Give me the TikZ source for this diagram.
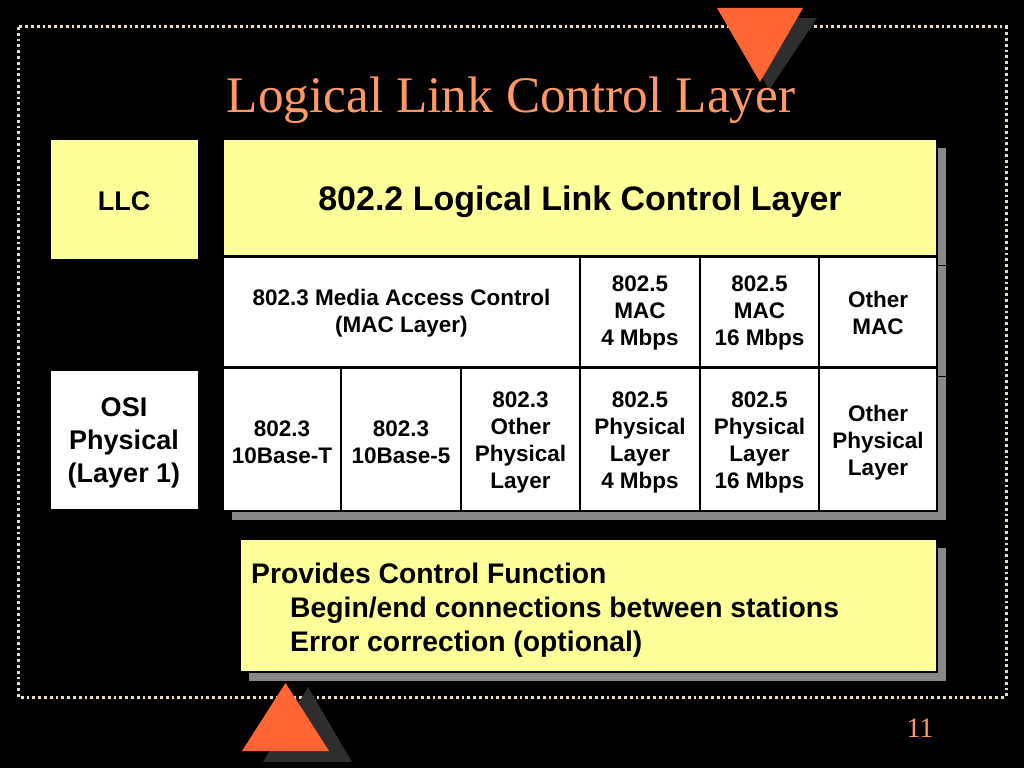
\documentclass[tikz,border=0pt]{standalone}
\usepackage{fontspec}
\setmainfont{Liberation Sans}
\newfontfamily\slidetitlefont{Liberation Serif}
\usetikzlibrary{shadows}
\definecolor{boxyellow}{HTML}{FFFF99}
\definecolor{shadowgray}{HTML}{888888}
\definecolor{triorange}{HTML}{FF6633}
\definecolor{trishadow}{HTML}{2E2E2E}
\definecolor{titlesalmon}{HTML}{FF9966}
\definecolor{dotcream}{HTML}{E8DCC8}
\newcommand\cellfnt{\fontsize{22.5}{27}\selectfont\bfseries}
\newcommand\sidefnt{\fontsize{27}{33}\selectfont\bfseries}
\begin{document}
\begin{tikzpicture}[x=1pt,y=-1pt,
  boxshadow/.style={general shadow={shadow xshift=9pt, shadow yshift=-9pt, fill=shadowgray, draw=none}},
  cell/.style={draw=black, line width=1.2pt, fill=white, inner sep=0pt, boxshadow},
  celltext/.style={inner sep=0pt, align=center, font=\cellfnt},
  sidebox/.style={draw=black, line width=1pt, inner sep=0pt},
  sidetext/.style={inner sep=0pt, align=center, font=\sidefnt},
  tri/.style={fill=triorange},
  trish/.style={fill=trishadow}]
\useasboundingbox (0,0) rectangle (1024,768);
\fill[black] (0,0) rectangle (1024,768);
% dotted frame
\draw[dotcream, line width=3pt, dash pattern=on 2.8pt off 3pt] (18,27) rectangle (1006,697);
% top triangle
\fill[trish] (731,18) -- (817,18) -- (769,90) -- cycle;
\fill[tri] (717,8) -- (803,8) -- (760,82) -- cycle;
% title
\node[anchor=base, text=titlesalmon, font=\slidetitlefont\fontsize{51.3}{56}\selectfont, inner sep=0pt] (title) at (511,112) {Logical Link Control Layer};
% side boxes
\node[sidebox, fill=boxyellow, minimum width=148pt, minimum height=120pt] (llc) at (124,199) {};
\node[sidetext] (llct) at ([yshift=-2pt]llc.center) {LLC};
\node[sidebox, fill=white, minimum width=148pt, minimum height=139pt] (osi) at (124,439.5) {};
\node[sidetext] (osit) at ([yshift=-3pt]osi.center) {OSI\\Physical\\(Layer 1)};
% header
\node[cell, fill=boxyellow, minimum width=714pt, minimum height=117pt] (hdr) at (580,197.5) {};
\node[inner sep=0pt, font=\fontsize{34}{38}\selectfont\bfseries] (hdrt) at ([yshift=-4pt]hdr.center) {802.2 Logical Link Control Layer};
% MAC row
\node[cell, minimum width=357pt, minimum height=110pt] (mac3) at (401.5,312) {};
\node[celltext] (mac3t) at ([yshift=-1pt]mac3.center) {802.3 Media Access Control\\(MAC Layer)};
\node[cell, minimum width=120pt, minimum height=110pt] (mac5a) at (640,312) {};
\node[celltext] (mac5at) at ([yshift=-1pt]mac5a.center) {802.5\\MAC\\4 Mbps};
\node[cell, minimum width=119pt, minimum height=110pt] (mac5b) at (759.5,312) {};
\node[celltext] (mac5bt) at ([yshift=-1pt]mac5b.center) {802.5\\MAC\\16 Mbps};
\node[cell, minimum width=118pt, minimum height=110pt] (macot) at (878,312) {};
\node[celltext] (macott) at ([yshift=-1pt]macot.center) {Other\\MAC};
% physical row
\node[cell, minimum width=118pt, minimum height=143pt] (phyt) at (282,439.5) {};
\node[celltext] (phytt) at ([yshift=-3pt]phyt.center) {802.3\\10Base-T};
\node[cell, minimum width=120pt, minimum height=143pt] (phy5) at (401,439.5) {};
\node[celltext] (phy5t) at ([yshift=-3pt]phy5.center) {802.3\\10Base-5};
\node[cell, minimum width=119pt, minimum height=143pt] (phyo3) at (520.5,439.5) {};
\node[celltext] (phyo3t) at ([yshift=-3pt]phyo3.center) {802.3\\Other\\Physical\\Layer};
\node[cell, minimum width=120pt, minimum height=143pt] (phy5a) at (640,439.5) {};
\node[celltext] (phy5at) at ([yshift=-3pt]phy5a.center) {802.5\\Physical\\Layer\\4 Mbps};
\node[cell, minimum width=119pt, minimum height=143pt] (phy5b) at (759.5,439.5) {};
\node[celltext] (phy5bt) at ([yshift=-3pt]phy5b.center) {802.5\\Physical\\Layer\\16 Mbps};
\node[cell, minimum width=118pt, minimum height=143pt] (phyot) at (878,439.5) {};
\node[celltext] (phyott) at ([yshift=-3pt]phyot.center) {Other\\Physical\\Layer};
% function box
\node[cell, fill=boxyellow, minimum width=697pt, minimum height=133pt] (func) at (588.5,605.5) {};
\node[anchor=west, inner sep=0pt, align=left, font=\fontsize{28.3}{34}\selectfont\bfseries] (functxt) at (251,610)
  {Provides Control Function\\\hspace*{39pt}Begin/end connections between stations\\\hspace*{39pt}Error correction (optional)};
% bottom triangle
\fill[trish] (308,687) -- (352,762) -- (263,762) -- cycle;
\fill[tri] (285.5,683) -- (329,751) -- (242,751) -- cycle;
% page number
\node[anchor=base, text=titlesalmon, font=\slidetitlefont\fontsize{28}{32}\selectfont, inner sep=0pt] (pnum) at (920,737) {11};
\end{tikzpicture}
\end{document}
